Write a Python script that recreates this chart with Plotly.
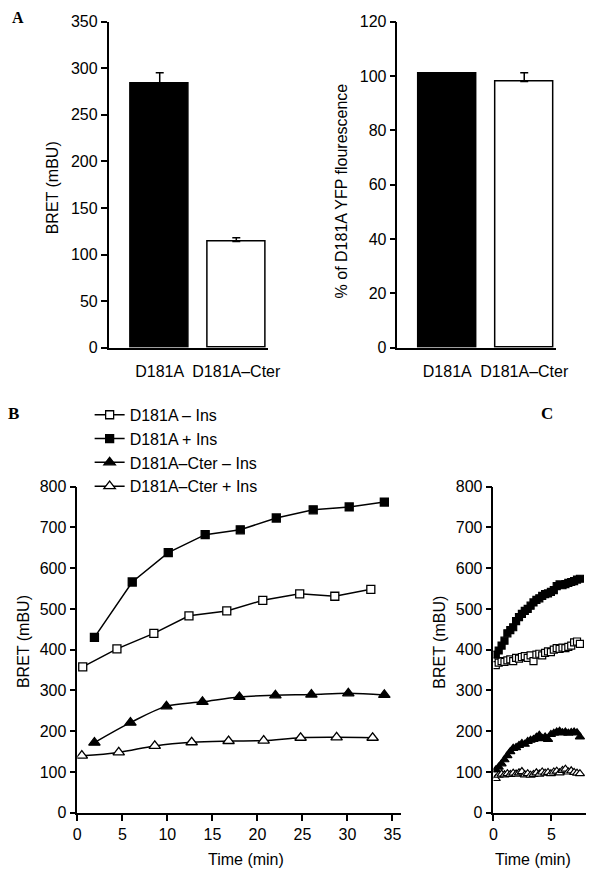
import plotly.graph_objects as go

W, H = 600, 875
FONT = "Liberation Sans"
FS = 16

# ---------------- data ----------------
a_cats = ["D181A", "D181A–Cter"]
a_bret = [284, 114]
a_bret_err = [11, 4]
a_yfp = [101, 98]
a_yfp_err = [0, 3.2]

b_names = ["D181A – Ins", "D181A + Ins", "D181A–Cter – Ins", "D181A–Cter + Ins"]
b_t_open_sq = [0.6, 4.4, 8.5, 12.4, 16.6, 20.6, 24.7, 28.6, 32.6]
b_v_open_sq = [358, 402, 440, 483, 495, 521, 537, 531, 548]
b_t_fill_sq = [1.9, 6.1, 10.1, 14.2, 18.1, 22.1, 26.2, 30.2, 34.1]
b_v_fill_sq = [430, 566, 638, 682, 694, 723, 743, 750, 762]
b_t_fill_tri = [1.9, 5.9, 9.9, 13.9, 18.0, 22.0, 26.0, 30.1, 34.1]
b_v_fill_tri = [172, 221, 261, 272, 284, 288, 290, 293, 289]
b_t_open_tri = [0.5, 4.6, 8.6, 12.7, 16.8, 20.7, 24.8, 28.8, 32.8]
b_v_open_tri = [140, 148, 164, 173, 176, 177, 184, 185, 184]

c_t = [0.2, 0.45, 0.7, 0.95, 1.2, 1.45, 1.7, 1.95, 2.2, 2.45, 2.7, 2.95, 3.2, 3.45, 3.7,
       3.95, 4.2, 4.45, 4.7, 4.95, 5.2, 5.45, 5.7, 5.95, 6.2, 6.45, 6.7, 6.95, 7.2, 7.45]
c_v_fill_sq = [388, 398, 410, 422, 440, 448, 455, 470, 480, 488, 495, 500, 508, 516, 522,
               526, 532, 536, 538, 542, 546, 556, 560, 558, 561, 564, 566, 568, 572, 574]
c_v_open_sq = [362, 368, 372, 370, 374, 376, 372, 380, 378, 382, 384, 380, 386, 372, 388,
               390, 386, 392, 396, 394, 400, 404, 402, 405, 404, 407, 410, 418, 420, 414]
c_v_fill_tri = [105, 112, 120, 130, 140, 150, 158, 160, 165, 170, 168, 175, 178, 180, 185,
                190, 182, 186, 180, 192, 195, 198, 200, 196, 198, 195, 197, 198, 196, 186]
c_v_open_tri = [84, 92, 95, 93, 96, 94, 97, 95, 98, 101, 93, 96, 92, 94, 98,
                95, 100, 97, 99, 96, 100, 102, 98, 104, 107, 100, 103, 99, 97, 96]

# ---------------- helpers ----------------
# map target picture coordinates to figure pixels (compensates for the capture geometry)
def X(p):
    return (p - 3.4) / 0.973

def Y(p):
    return (p - 7.4) / 0.980

def fx(p):
    return X(p) / W

def fy(p):
    return 1 - Y(p) / H

axis_common = dict(showline=True, linecolor="black", linewidth=1.5, showgrid=False,
                   zeroline=False, tickfont=dict(family=FONT, size=FS, color="black"),
                   tickcolor="black", tickwidth=1.5)

fig = go.Figure()

# Panel A left
fig.add_trace(go.Bar(x=[0, 1], y=a_bret, width=0.76, xaxis="x", yaxis="y",
                     marker=dict(color=["black", "white"], line=dict(color="black", width=1.5)),
                     error_y=dict(type="data", array=a_bret_err, arrayminus=[0, 0], symmetric=False,
                                  color="black", thickness=1.5, width=4),
                     showlegend=False))
# Panel A right
fig.add_trace(go.Bar(x=[0, 1], y=a_yfp, width=0.76, xaxis="x2", yaxis="y2",
                     marker=dict(color=["black", "white"], line=dict(color="black", width=1.5)),
                     error_y=dict(type="data", array=a_yfp_err, arrayminus=[0, 0], symmetric=False,
                                  color="black", thickness=1.5, width=4),
                     showlegend=False))

# Panel B
b_series = [
    (b_t_open_sq, b_v_open_sq, "square", "white", "linear", 8),
    (b_t_fill_sq, b_v_fill_sq, "square", "black", "linear", 8),
    (b_t_fill_tri, b_v_fill_tri, "triangle-up", "black", "spline", 10),
    (b_t_open_tri, b_v_open_tri, "triangle-up", "white", "spline", 10),
]
for i, (t, v, sym, col, shape, sz) in enumerate(b_series):
    fig.add_trace(go.Scatter(x=t, y=v, xaxis="x3", yaxis="y3", mode="lines+markers",
                             name=b_names[i],
                             line=dict(color="black", width=1.5, shape=shape),
                             marker=dict(symbol=sym, size=sz, color=col,
                                         line=dict(color="black", width=1.3))))

# Panel C
c_series = [
    (c_v_open_sq, "square", "white", 7),
    (c_v_fill_sq, "square", "black", 7),
    (c_v_fill_tri, "triangle-up", "black", 8),
    (c_v_open_tri, "triangle-up", "white", 8),
]
for v, sym, col, sz in c_series:
    fig.add_trace(go.Scatter(x=c_t, y=v, xaxis="x4", yaxis="y4", mode="markers",
                             showlegend=False,
                             marker=dict(symbol=sym, size=sz, color=col,
                                         line=dict(color="black", width=1.2))))

A_TOP, A_BOT = 21, 347
B_TOP, B_BOT = 485.7, 811.7

fig.update_layout(
    width=W, height=H, margin=dict(l=0, r=0, t=0, b=0),
    paper_bgcolor="white", plot_bgcolor="white",
    font=dict(family=FONT, size=FS, color="black"),
    bargap=0,
    xaxis=dict(axis_common, domain=[fx(108), fx(267)], range=[-0.667, 1.41],
               tickvals=[0, 1], ticktext=a_cats, ticks="", ticklabelstandoff=8),
    yaxis=dict(axis_common, domain=[fy(A_BOT), fy(A_TOP)], range=[0, 350],
               tickvals=[0, 50, 100, 150, 200, 250, 300, 350], ticks="outside", ticklen=6),
    xaxis2=dict(axis_common, domain=[fx(396.7), fx(555)], range=[-0.647, 1.41],
                tickvals=[0, 1], ticktext=a_cats, ticks="", ticklabelstandoff=8,
                anchor="y2"),
    yaxis2=dict(axis_common, domain=[fy(A_BOT), fy(A_TOP)], range=[0, 120],
                tickvals=[0, 20, 40, 60, 80, 100, 120], ticks="outside", ticklen=6,
                anchor="x2"),
    xaxis3=dict(axis_common, domain=[fx(76.7), fx(400.7)], range=[0, 36],
                tickvals=[0, 5, 10, 15, 20, 25, 30, 35], ticks="outside", ticklen=6,
                anchor="y3"),
    yaxis3=dict(axis_common, domain=[fy(B_BOT), fy(B_TOP)], range=[0, 800],
                tickvals=[0, 100, 200, 300, 400, 500, 600, 700, 800], ticks="outside",
                ticklen=6, anchor="x3"),
    xaxis4=dict(axis_common, domain=[fx(492.7), fx(585.5)], range=[0, 8],
                tickvals=[0, 5], ticks="outside", ticklen=6, anchor="y4"),
    yaxis4=dict(axis_common, domain=[fy(B_BOT), fy(B_TOP)], range=[0, 800],
                tickvals=[0, 100, 200, 300, 400, 500, 600, 700, 800], ticks="outside",
                ticklen=6, anchor="x4"),
    legend=dict(x=fx(89), y=fy(397), xanchor="left", yanchor="top",
                font=dict(family=FONT, size=FS, color="black"),
                bgcolor="rgba(0,0,0,0)", tracegroupgap=0, itemwidth=30),
    showlegend=True,
)

ann = []
def add_text(x, y, text, angle=0, size=FS, family=FONT, bold=False):
    if bold:
        text = "<b>" + text + "</b>"
    ann.append(dict(x=fx(x), y=fy(y), xref="paper", yref="paper", text=text,
                    showarrow=False, textangle=angle, xanchor="center", yanchor="middle",
                    font=dict(family=family, size=size, color="black")))

add_text(52, 187, "BRET (mBU)", angle=-90)
add_text(341, 190, "% of D181A YFP flourescence", angle=-90)
add_text(23.5, 641, "BRET (mBU)", angle=-90)
add_text(439, 641, "BRET (mBU)", angle=-90)
add_text(245.5, 858, "Time (min)")
add_text(532, 858, "Time (min)")
add_text(17, 17, "A", size=16, family="Liberation Serif", bold=True)
add_text(13, 413, "B", size=17, family="Liberation Serif", bold=True)
add_text(546, 413, "C", size=17, family="Liberation Serif", bold=True)
fig.update_layout(annotations=ann)

fig.write_html("out.html", config={"displayModeBar": False},
               post_script="document.body.style.margin='0';")
